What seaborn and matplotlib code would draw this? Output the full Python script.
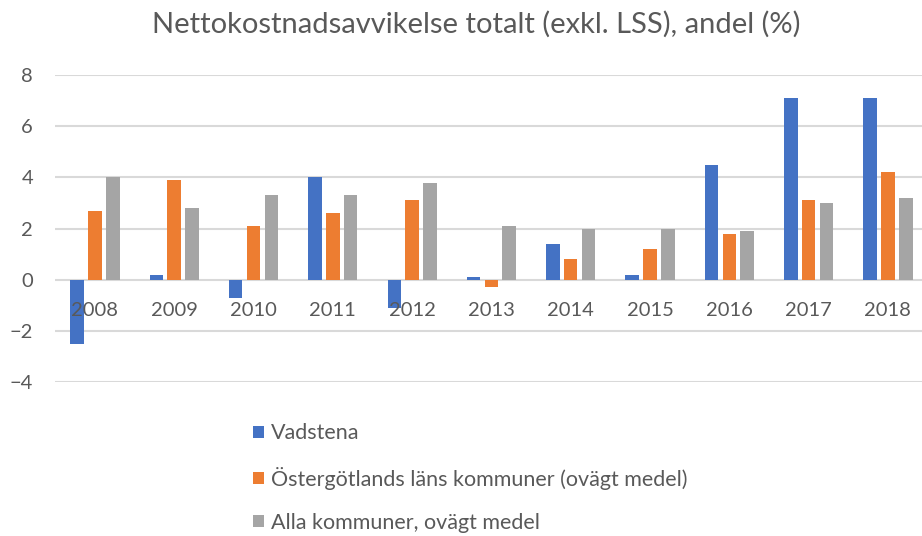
import pandas as pd
import matplotlib
matplotlib.use("Agg")
import matplotlib.pyplot as plt
import seaborn as sns

years = ['2008', '2009', '2010', '2011', '2012', '2013', '2014', '2015', '2016', '2017', '2018']
vadstena = [-2.5, 0.2, -0.7, 4.0, -1.1, 0.1, 1.4, 0.2, 4.5, 7.1, 7.1]
ostergotland = [2.7, 3.9, 2.1, 2.6, 3.1, -0.3, 0.8, 1.2, 1.8, 3.1, 4.2]
alla = [4.0, 2.8, 3.3, 3.3, 3.8, 2.1, 2.0, 2.0, 1.9, 3.0, 3.2]
series_names = ['Vadstena',
                'Östergötlands läns kommuner (ovägt medel)',
                'Alla kommuner, ovägt medel']
y_ticks = [-4, -2, 0, 2, 4, 6, 8]
colors = ['#4472C4', '#ED7D31', '#A5A5A5']
text_col = '#595959'
grid_col = '#D9D9D9'

df = pd.DataFrame({
    'year': years * 3,
    'value': vadstena + ostergotland + alla,
    'serie': [series_names[0]] * 11 + [series_names[1]] * 11 + [series_names[2]] * 11,
})

sns.set_theme(style="white")
plt.rcParams['font.family'] = ['Lato', 'DejaVu Sans']

fig = plt.figure(figsize=(9.22, 5.36), dpi=100)
ax = fig.add_axes([0.060, 0.287, 0.946, 0.573])

sns.barplot(data=df, x='year', y='value', hue='serie', order=years,
            hue_order=series_names, palette=colors, saturation=1,
            width=0.675, gap=0.24, linewidth=0, ax=ax)

ax.set_ylim(-4, 8)
ax.set_xlim(-0.5, len(years) - 0.5)
ax.set_yticks(y_ticks)
ax.grid(False)
for t in y_ticks:
    ax.axhline(t, color=grid_col, lw=1.5, zorder=0)
ax.set_axisbelow(False)

for s in ['top', 'right', 'left']:
    ax.spines[s].set_visible(False)
ax.spines['bottom'].set_position(('data', 0))
ax.spines['bottom'].set_visible(False)

ax.tick_params(axis='x', length=0, pad=16, labelsize=14.5, labelcolor=text_col)
ax.tick_params(axis='y', length=0, pad=16, labelsize=14.5, labelcolor=text_col)
ax.set_xlabel('')
ax.set_ylabel('')

fig.text(0.517, 0.955, 'Nettokostnadsavvikelse totalt (exkl. LSS), andel (%)',
         ha='center', va='center', fontsize=21, color=text_col)

handles, labels = ax.get_legend_handles_labels()
leg = ax.legend(handles, labels, loc='upper left', bbox_to_anchor=(0.265, 0.226),
                bbox_transform=fig.transFigure, frameon=False, fontsize=15.5,
                handlelength=0.5, handleheight=0.5, handletextpad=0.35,
                labelspacing=1.07, borderaxespad=0)
for t in leg.get_texts():
    t.set_color(text_col)

fig.savefig('out.png', dpi=100)
